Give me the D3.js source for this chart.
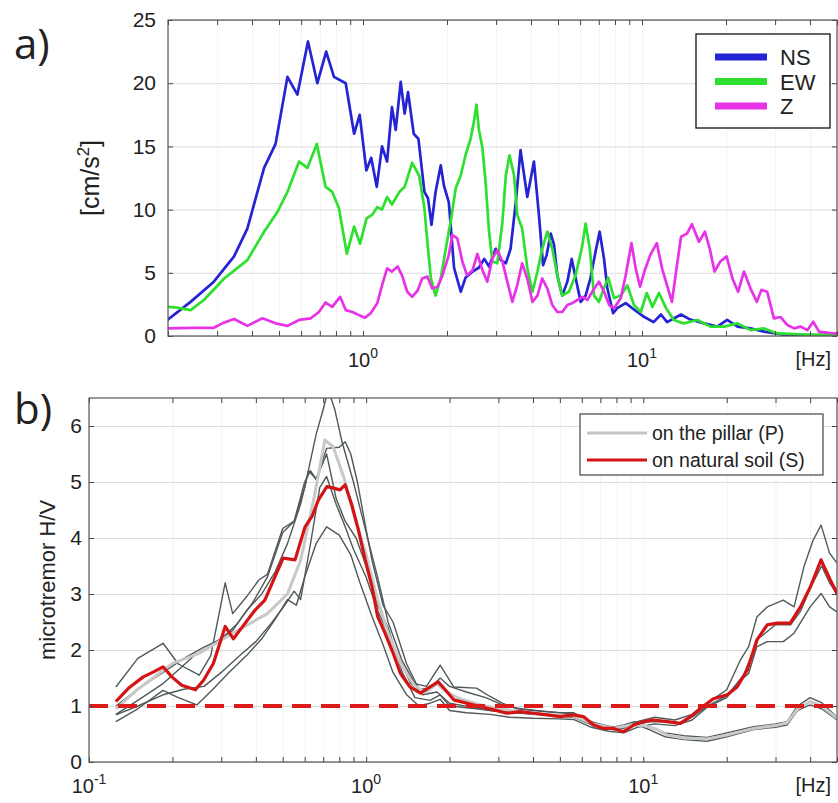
<!DOCTYPE html>
<html>
<head>
<meta charset="utf-8">
<script src="https://cdn.jsdelivr.net/npm/d3@7"></script>
<style>
body { margin: 0; background: #fff; }
svg { display: block; }
text { font-family: "Liberation Sans", Arial, sans-serif; fill: #222; }
</style>
</head>
<body>
<svg id="chart" width="838" height="803"></svg>
<script>

// a) Fourier amplitude spectra [frequency Hz, cm/s^2]
var nsSpectrum = [[0.199,1.27],[0.241,2.7],[0.292,4.3],[0.345,6.3],[0.385,8.5],[0.442,13.3],[0.486,15.2],[0.536,20.5],[0.582,19.1],[0.635,23.3],[0.686,20.0],[0.738,22.5],[0.787,20.5],[0.867,20.0],[0.929,16.0],[0.973,17.5],[1.028,13.1],[1.07,14.1],[1.12,11.8],[1.17,15.0],[1.22,13.8],[1.27,18.1],[1.31,16.3],[1.365,20.1],[1.41,17.6],[1.45,19.3],[1.52,16.0],[1.58,15.6],[1.66,11.4],[1.71,10.9],[1.76,8.8],[1.82,11.4],[1.90,13.5],[1.95,11.9],[2.03,10.6],[2.12,5.4],[2.24,3.5],[2.33,4.6],[2.47,5.1],[2.60,5.4],[2.72,6.1],[2.83,5.5],[2.99,6.9],[3.12,6.0],[3.25,5.75],[3.38,6.9],[3.53,10.6],[3.67,14.7],[3.88,11.0],[4.10,13.8],[4.27,9.6],[4.42,5.6],[4.55,6.4],[4.71,8.1],[4.84,7.2],[4.97,4.8],[5.18,3.2],[5.40,4.3],[5.60,6.1],[5.78,4.6],[6.03,2.7],[6.28,3.2],[6.54,4.6],[6.82,6.7],[7.05,8.25],[7.31,6.1],[7.51,3.8],[7.88,1.8],[8.15,2.2],[8.74,2.6],[9.36,2.1],[10.2,1.5],[11.0,1.1],[11.7,1.7],[12.3,1.1],[13.8,1.7],[14.9,1.3],[16.7,1.0],[18.6,0.74],[20.2,1.27],[22.0,0.74],[24.5,0.6],[27.4,0.35],[32.3,0.1],[40,0.08],[50,0.1]];

var ewSpectrum = [[0.199,2.3],[0.216,2.25],[0.241,2.05],[0.269,2.85],[0.318,4.55],[0.385,6.0],[0.442,8.25],[0.493,9.8],[0.536,11.4],[0.590,13.8],[0.632,13.3],[0.683,15.2],[0.734,11.8],[0.776,11.4],[0.820,10.1],[0.875,6.5],[0.929,8.65],[0.976,7.3],[1.03,9.3],[1.08,9.6],[1.125,10.2],[1.17,10.0],[1.22,11.0],[1.27,10.4],[1.35,11.4],[1.41,11.8],[1.50,13.7],[1.59,12.7],[1.66,10.1],[1.70,7.5],[1.75,4.6],[1.82,3.2],[1.90,4.6],[1.98,6.9],[2.06,9.0],[2.15,11.7],[2.24,12.7],[2.33,14.3],[2.43,15.6],[2.50,17.0],[2.55,18.3],[2.60,16.4],[2.68,14.85],[2.75,12.2],[2.83,8.25],[2.91,5.9],[3.03,5.75],[3.16,9.0],[3.25,12.7],[3.35,14.3],[3.48,12.7],[3.57,9.6],[3.72,8.5],[3.88,5.4],[4.05,3.5],[4.22,5.1],[4.39,6.9],[4.58,8.25],[4.77,6.9],[4.97,4.8],[5.18,3.2],[5.47,3.5],[5.78,4.8],[6.08,6.9],[6.28,8.9],[6.50,6.9],[6.73,3.2],[7.01,2.7],[7.31,3.8],[7.57,4.6],[7.94,3.0],[8.40,3.2],[8.86,4.0],[9.36,2.45],[9.9,1.9],[10.4,3.4],[10.9,2.3],[11.5,3.4],[12.2,2.2],[13.0,1.27],[14.1,1.0],[15.8,1.27],[17.6,0.74],[19.7,0.74],[22.0,1.0],[24.5,0.47],[27.4,0.6],[30.5,0.2],[40,0.1],[50,0.1]];

var zSpectrum = [[0.199,0.6],[0.241,0.65],[0.292,0.65],[0.313,1.0],[0.345,1.35],[0.385,0.8],[0.436,1.4],[0.486,1.0],[0.536,0.8],[0.590,1.27],[0.650,1.4],[0.695,1.9],[0.734,2.65],[0.776,2.3],[0.828,3.1],[0.867,2.05],[0.916,1.9],[0.968,1.65],[1.017,1.45],[1.065,1.8],[1.125,2.6],[1.17,4.0],[1.22,5.35],[1.27,5.1],[1.33,5.5],[1.38,4.8],[1.44,3.5],[1.50,3.1],[1.57,3.6],[1.63,4.55],[1.70,4.7],[1.77,3.75],[1.85,3.9],[1.92,4.7],[2.03,6.4],[2.09,8.0],[2.18,7.7],[2.27,5.9],[2.36,4.8],[2.47,5.2],[2.57,6.5],[2.68,5.2],[2.79,4.3],[2.91,6.15],[3.03,6.8],[3.16,5.9],[3.29,4.3],[3.43,2.7],[3.57,4.0],[3.72,5.75],[3.88,4.55],[4.05,2.7],[4.22,3.2],[4.39,4.55],[4.58,3.75],[4.77,2.45],[4.97,1.9],[5.18,1.9],[5.40,2.45],[5.62,2.6],[5.87,2.85],[6.12,3.1],[6.37,2.85],[6.67,3.6],[7.01,4.3],[7.31,3.5],[7.63,2.45],[7.94,2.2],[8.40,3.0],[8.74,4.8],[9.17,7.35],[9.49,5.35],[9.84,3.9],[10.2,5.1],[10.7,6.4],[11.3,7.35],[11.8,5.35],[12.3,4.0],[12.8,2.7],[13.3,5.35],[13.8,7.85],[14.5,8.1],[15.1,8.85],[16.0,7.45],[16.8,8.25],[17.5,6.9],[18.2,5.1],[19.1,5.9],[20.1,6.3],[21.1,4.55],[22.1,3.5],[23.2,5.1],[24.5,3.75],[25.8,2.7],[26.8,3.65],[28.1,3.5],[29.7,1.4],[31.4,1.5],[33.2,0.87],[35.1,0.6],[37.0,0.74],[39.2,0.47],[41.1,1.13],[43.1,0.35],[48.8,0.2],[50,0.2]];

var spectrumNames = ["NS", "EW", "Z"];
var spectrumYTicks = [0, 5, 10, 15, 20, 25];

// b) H/V ratios [frequency Hz, H/V]
var soilRecordA = [[0.125,1.34],[0.15,1.85],[0.185,2.12],[0.21,1.75],[0.25,1.55],[0.275,1.9],[0.31,3.2],[0.33,2.65],[0.37,2.95],[0.41,3.25],[0.44,3.35],[0.5,4.17],[0.55,4.3],[0.6,4.9],[0.66,5.85],[0.7,6.3],[0.73,6.65],[0.77,6.3],[0.82,5.7],[0.9,5.0],[1.0,4.1],[1.1,3.3],[1.2,2.5],[1.35,1.8],[1.5,1.4],[1.65,1.35],[1.85,1.73],[2.07,1.34],[2.5,1.32],[2.8,1.17],[3.1,1.05],[3.5,0.95],[4,0.92],[5,0.88],[5.6,0.88],[6.5,0.72],[7.5,0.62],[8.5,0.6],[9.5,0.72],[11,0.8],[13,0.75],[15,0.85],[17,1.05],[20,1.29],[22.4,1.82],[24,2.06],[25.7,2.59],[28,2.77],[32,2.89],[35,2.77],[38,3.49],[41,3.96],[43.8,4.23],[47,3.73],[50,3.55]];
var soilRecordB = [[0.125,0.72],[0.15,0.95],[0.185,1.28],[0.21,1.15],[0.245,1.02],[0.28,1.3],[0.32,1.6],[0.37,1.9],[0.42,2.2],[0.47,2.55],[0.52,2.9],[0.56,2.8],[0.6,3.3],[0.66,3.9],[0.72,4.2],[0.8,4.05],[0.88,3.7],[0.95,3.2],[1.05,2.6],[1.15,2.1],[1.25,1.6],[1.4,1.2],[1.55,1.0],[1.7,1.05],[1.85,1.12],[2.0,0.92],[2.3,0.88],[2.8,0.85],[3.3,0.8],[4,0.78],[5,0.77],[5.6,0.76],[6.5,0.62],[7.5,0.55],[8.5,0.52],[9.5,0.62],[11,0.68],[13,0.65],[15,0.75],[17,0.98],[20,1.15],[22.4,1.45],[24,1.58],[25.7,2.06],[28,2.15],[32,2.15],[35,2.3],[40,2.77],[43.8,3.01],[47,2.77],[50,2.68]];
var soilRecordC = [[0.125,1.0],[0.15,1.3],[0.185,1.6],[0.22,1.85],[0.26,2.05],[0.3,2.2],[0.34,2.45],[0.39,2.85],[0.44,3.3],[0.5,4.1],[0.55,4.3],[0.6,5.0],[0.63,5.2],[0.66,5.05],[0.72,5.5],[0.78,4.7],[0.84,4.3],[0.92,4.0],[1.0,3.5],[1.1,2.8],[1.2,2.4],[1.35,1.6],[1.5,1.15],[1.7,1.1],[1.85,1.2],[2.0,1.0],[2.5,0.95],[3,0.9],[4,0.85],[5,0.82],[5.6,0.8],[6.6,0.65],[7.8,0.58],[8.5,0.56],[9.3,0.65],[10.5,0.72],[12,0.72],[13.6,0.7],[15,0.8],[17,1.0],[20,1.18],[23,1.55],[26,2.2],[30,2.45],[34,2.45],[37,2.7],[40,3.1],[44,3.5],[47,3.2],[50,3.0]];
var pillarRecordA = [[0.125,0.85],[0.15,1.1],[0.185,1.4],[0.2,1.55],[0.24,1.9],[0.28,2.1],[0.33,2.35],[0.37,2.7],[0.42,3.0],[0.47,3.4],[0.52,3.9],[0.58,4.6],[0.62,5.2],[0.66,5.05],[0.72,5.6],[0.8,5.62],[0.84,5.72],[0.88,5.5],[0.93,5.0],[1.0,4.15],[1.05,3.6],[1.15,2.8],[1.25,2.5],[1.4,1.75],[1.55,1.3],[1.7,1.32],[1.85,1.5],[2.0,1.35],[2.3,1.25],[2.7,1.15],[3.1,1.02],[3.6,0.95],[4.5,0.9],[5.6,0.86],[6.6,0.7],[7.8,0.62],[8.5,0.66],[9.3,0.72],[10.5,0.62],[12,0.52],[14,0.47],[17,0.44],[20,0.52],[25,0.63],[30,0.68],[33,0.72],[36,1.0],[40,1.15],[44,1.06],[50,0.8]];
var pillarRecordB = [[0.125,0.84],[0.15,1.0],[0.185,1.2],[0.22,1.3],[0.26,1.35],[0.3,1.6],[0.35,1.9],[0.4,2.15],[0.45,2.45],[0.5,2.75],[0.55,3.05],[0.58,2.9],[0.63,3.9],[0.68,4.9],[0.72,5.1],[0.78,4.6],[0.84,4.2],[0.9,3.8],[1.0,3.3],[1.1,2.7],[1.2,2.3],[1.3,1.9],[1.45,1.4],[1.6,1.2],[1.8,1.25],[2.0,1.05],[2.4,0.98],[2.8,0.92],[3.3,0.9],[4,0.86],[5,0.83],[5.6,0.8],[6.6,0.66],[7.8,0.58],[8.5,0.62],[9.3,0.68],[10.5,0.58],[12,0.45],[14,0.4],[17,0.37],[20,0.45],[25,0.58],[30,0.62],[33,0.66],[36,0.92],[40,1.02],[44,0.95],[50,0.75]];

var pillarMean = [[0.125,0.95],[0.15,1.3],[0.2,1.76],[0.25,1.94],[0.33,2.3],[0.44,2.65],[0.52,3.0],[0.58,3.6],[0.65,4.74],[0.71,5.75],[0.76,5.63],[0.83,5.09],[0.9,4.44],[1.0,3.7],[1.1,2.9],[1.2,2.3],[1.35,1.7],[1.5,1.35],[1.65,1.25],[1.8,1.4],[1.95,1.25],[2.2,1.12],[2.6,1.02],[3,0.95],[3.6,0.9],[4.5,0.85],[5.6,0.82],[6.6,0.68],[7.8,0.6],[9,0.66],[10,0.65],[11,0.6],[12.2,0.48],[14,0.43],[17,0.41],[20,0.48],[25,0.6],[30,0.65],[33,0.7],[36,0.95],[40,1.08],[44,1.0],[50,0.78]];

var soilMean = [[0.125,1.08],[0.139,1.32],[0.157,1.52],[0.171,1.61],[0.185,1.70],[0.199,1.52],[0.216,1.37],[0.242,1.29],[0.259,1.46],[0.281,1.76],[0.31,2.42],[0.332,2.2],[0.366,2.48],[0.397,2.71],[0.431,2.89],[0.469,3.31],[0.502,3.64],[0.554,3.61],[0.602,4.2],[0.637,4.38],[0.673,4.68],[0.722,4.92],[0.762,4.89],[0.805,4.86],[0.84,4.95],[0.888,4.59],[0.938,4.14],[0.992,3.61],[1.05,3.13],[1.1,2.6],[1.17,2.3],[1.25,1.95],[1.33,1.58],[1.44,1.34],[1.57,1.23],[1.7,1.34],[1.82,1.43],[1.93,1.29],[2.07,1.11],[2.31,1.05],[2.58,0.99],[2.89,0.93],[3.22,0.87],[3.6,0.9],[4.02,0.87],[4.49,0.84],[5.01,0.81],[5.6,0.84],[6.09,0.81],[6.62,0.66],[7.19,0.6],[7.81,0.6],[8.49,0.54],[9.23,0.66],[10,0.72],[10.9,0.75],[12.2,0.72],[13.6,0.69],[14.8,0.81],[16.1,0.96],[17.9,1.13],[20.1,1.2],[21.8,1.34],[23.7,1.64],[25.7,2.18],[28,2.45],[30.4,2.48],[33.9,2.48],[36.9,2.77],[40.1,3.13],[43.8,3.61],[47.3,3.25],[50,3.01]];

var referenceLevel = 1;
var ratioYTicks = [0, 1, 2, 3, 4, 5, 6];
var ratioNames = ["on the pillar (P)", "on natural soil (S)"];

var svg = d3.select("#chart");

var topPanel = { left: 168, right: 837, top: 20, bottom: 336, xDomain: [0.2, 50], yDomain: [0, 25], labelPad: 12, labelSize: 21, id: "clipA" };
var bottomPanel = { left: 89, right: 837, top: 398, bottom: 762, xDomain: [0.1, 50], yDomain: [0, 6.5], labelPad: 7, labelSize: 21, id: "clipB" };

function makeScales(panel)
{
    panel.x = d3.scaleLog().domain(panel.xDomain).range([panel.left, panel.right]);
    panel.y = d3.scaleLinear().domain(panel.yDomain).range([panel.bottom, panel.top]);
}

function drawFrame(panel, yTicks)
{
    var x = panel.x;
    var y = panel.y;
    var h = panel.bottom - panel.top;
    var w = panel.right - panel.left;
    var xTicks = x.ticks();

    // grid
    var vgrid = svg.append("g")
        .attr("transform", "translate(0," + panel.bottom + ")")
        .call(d3.axisBottom(x).tickValues(xTicks).tickSize(-h).tickFormat(""));
    vgrid.select(".domain").remove();
    vgrid.selectAll("line").attr("stroke", "#e6e6e6").attr("stroke-dasharray", "1,1");

    var hgrid = svg.append("g")
        .attr("transform", "translate(" + panel.left + ",0)")
        .call(d3.axisLeft(y).tickValues(yTicks).tickSize(-w).tickFormat(""));
    hgrid.select(".domain").remove();
    hgrid.selectAll("line").attr("stroke", "#dcdcdc");

    svg.append("defs").append("clipPath").attr("id", panel.id)
        .append("rect")
        .attr("x", panel.left).attr("y", panel.top)
        .attr("width", w).attr("height", h);
}

function drawAxes(panel, yTicks, majors)
{
    var x = panel.x;
    var y = panel.y;
    var xTicks = x.ticks();

    var axes = [
        { axis: d3.axisBottom(x).tickValues(xTicks), t: "translate(0," + panel.bottom + ")" },
        { axis: d3.axisTop(x).tickValues(xTicks), t: "translate(0," + panel.top + ")" },
        { axis: d3.axisRight(y).tickValues(yTicks), t: "translate(" + panel.right + ",0)" }
    ];
    axes.forEach(function (a)
    {
        var g = svg.append("g").attr("transform", a.t)
            .call(a.axis.tickSize(-5).tickFormat(""));
        g.select(".domain").remove();
        g.selectAll("line").attr("stroke", "#444");
    });

    var left = svg.append("g")
        .attr("transform", "translate(" + panel.left + ",0)")
        .call(d3.axisLeft(y).tickValues(yTicks).tickSize(-5).tickPadding(panel.labelPad).tickFormat(d3.format("d")));
    left.select(".domain").remove();
    left.selectAll("line").attr("stroke", "#444");
    left.selectAll("text")
        .style("font-size", panel.labelSize + "px")
        .style("font-family", "Liberation Sans, Arial, sans-serif")
        .attr("fill", "#222");

    svg.append("rect")
        .attr("x", panel.left).attr("y", panel.top)
        .attr("width", panel.right - panel.left).attr("height", panel.bottom - panel.top)
        .attr("fill", "none").attr("stroke", "#555").attr("stroke-width", 1.2);

    // decade labels 10^n
    majors.forEach(function (m)
    {
        var t = svg.append("text")
            .attr("x", x(m))
            .attr("y", panel.bottom + 31)
            .attr("text-anchor", "middle")
            .style("font-size", "20px");
        t.append("tspan").text("10");
        t.append("tspan")
            .attr("dy", -9)
            .style("font-size", "14px")
            .text(Math.round(Math.log10(m)));
    });

    svg.append("text")
        .attr("x", 831)
        .attr("y", panel.bottom + 30)
        .attr("text-anchor", "end")
        .style("font-size", "20px")
        .text("[Hz]");
}

function curve(panel)
{
    return d3.line()
        .x(function (d) { return panel.x(d[0]); })
        .y(function (d) { return panel.y(d[1]); });
}

function drawSeries(panel, data, color, width)
{
    svg.append("path")
        .datum(data)
        .attr("clip-path", "url(#" + panel.id + ")")
        .attr("d", curve(panel))
        .attr("fill", "none")
        .attr("stroke", color)
        .attr("stroke-width", width)
        .attr("stroke-linejoin", "round");
}

// ---- panel a ----
makeScales(topPanel);
drawFrame(topPanel, spectrumYTicks);

var spectrumColors = ["#2424d4", "#2ee02e", "#e832e8"];
[nsSpectrum, ewSpectrum, zSpectrum].forEach(function (s, i)
{
    drawSeries(topPanel, s, spectrumColors[i], 2.7);
});

drawAxes(topPanel, spectrumYTicks, [1, 10]);

var legendA = svg.append("g");
legendA.append("rect")
    .attr("x", 696).attr("y", 34).attr("width", 134).attr("height", 94)
    .attr("fill", "#fff").attr("stroke", "#111").attr("stroke-width", 1.3);
spectrumNames.forEach(function (name, i)
{
    var ly = 57 + i * 24.5;
    legendA.append("line")
        .attr("x1", 715).attr("x2", 767).attr("y1", ly).attr("y2", ly)
        .attr("stroke", spectrumColors[i]).attr("stroke-width", 7);
    legendA.append("text")
        .attr("x", 780).attr("y", ly + 8)
        .style("font-size", "22px")
        .attr("fill", "#111")
        .text(name);
});

svg.append("text")
    .attr("transform", "translate(99," + (topPanel.top + topPanel.bottom) / 2 + ") rotate(-90)")
    .attr("text-anchor", "middle")
    .style("font-size", "25px")
    .call(function (t)
    {
        t.append("tspan").text("[cm/s");
        t.append("tspan").attr("dy", -10).style("font-size", "17px").text("2");
        t.append("tspan").attr("dy", 10).text("]");
    });

svg.append("text")
    .attr("x", 14).attr("y", 59)
    .style("font-family", "Open Sans, Noto Sans, sans-serif")
    .style("font-size", "42px")
    .text("a)");

// ---- panel b ----
makeScales(bottomPanel);
drawFrame(bottomPanel, ratioYTicks);

[soilRecordA, soilRecordB, soilRecordC, pillarRecordA, pillarRecordB].forEach(function (s)
{
    drawSeries(bottomPanel, s, "#4f5959", 1.4);
});
drawSeries(bottomPanel, pillarMean, "#c8c8c8", 3);
drawSeries(bottomPanel, soilMean, "#d41414", 3.2);

svg.append("line")
    .attr("x1", bottomPanel.x(0.1)).attr("x2", bottomPanel.x(50))
    .attr("y1", bottomPanel.y(referenceLevel)).attr("y2", bottomPanel.y(referenceLevel))
    .attr("stroke", "#dd1a1a").attr("stroke-width", 4)
    .attr("stroke-dasharray", "19,10");

drawAxes(bottomPanel, ratioYTicks, [0.1, 1, 10]);

var legendB = svg.append("g");
legendB.append("rect")
    .attr("x", 580).attr("y", 414).attr("width", 243).attr("height", 61)
    .attr("fill", "#fff").attr("stroke", "#444").attr("stroke-width", 1.2);
var legendColors = ["#c4c4c4", "#d41414"];
ratioNames.forEach(function (name, i)
{
    var ly = 433 + i * 27;
    legendB.append("line")
        .attr("x1", 587).attr("x2", 647).attr("y1", ly).attr("y2", ly)
        .attr("stroke", legendColors[i]).attr("stroke-width", 3);
    legendB.append("text")
        .attr("x", 652).attr("y", ly + 7)
        .style("font-size", "19.5px")
        .text(name);
});

svg.append("text")
    .attr("transform", "translate(55," + (bottomPanel.top + bottomPanel.bottom) / 2 + ") rotate(-90)")
    .attr("text-anchor", "middle")
    .style("font-size", "22px")
    .text("microtremor H/V");

svg.append("text")
    .attr("x", 14).attr("y", 424)
    .style("font-family", "Open Sans, Noto Sans, sans-serif")
    .style("font-size", "42px")
    .text("b)");

</script>
</body>
</html>
